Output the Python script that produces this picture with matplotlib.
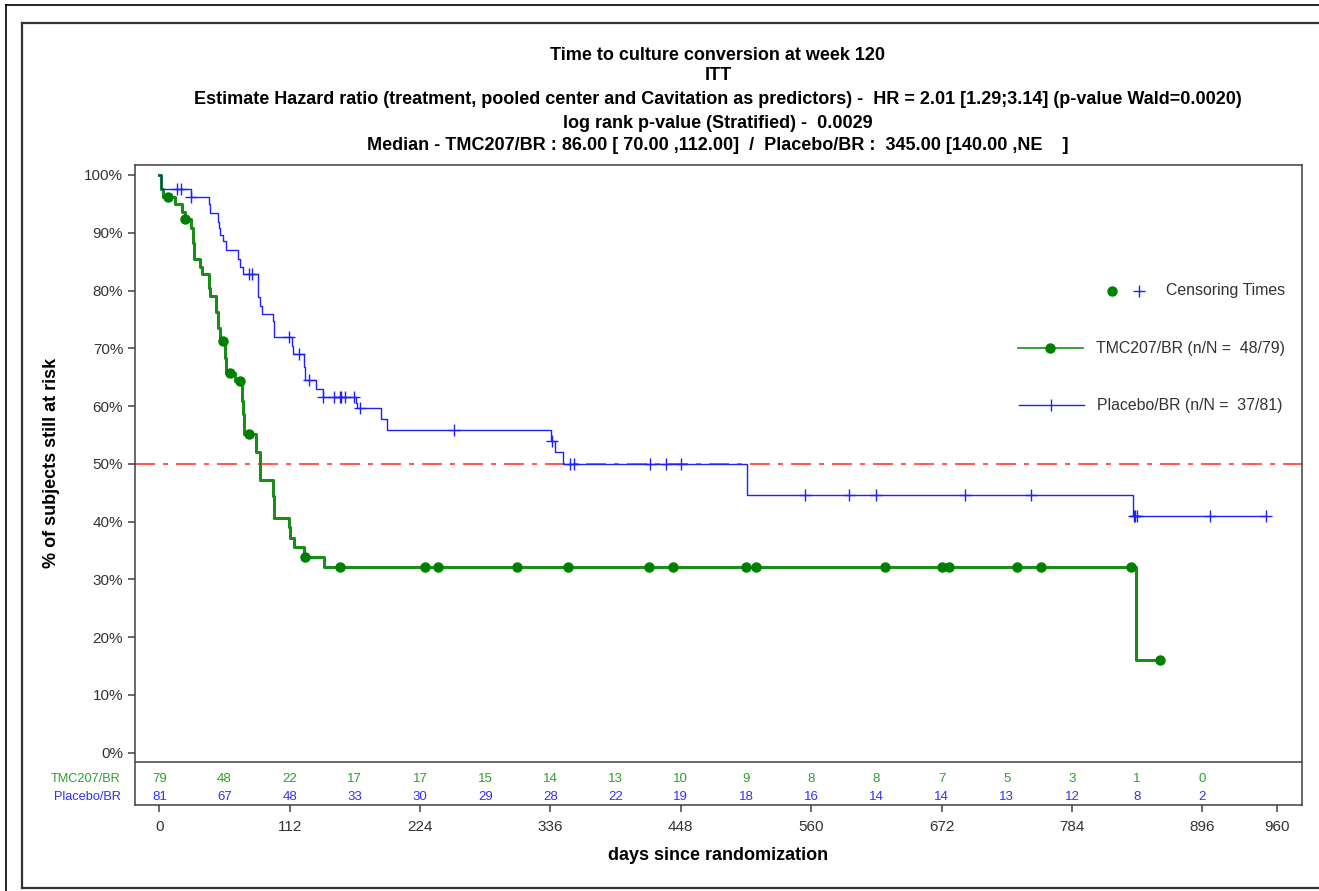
import numpy as np
import matplotlib
matplotlib.use('Agg')
import matplotlib.pyplot as plt
from matplotlib.lines import Line2D
from matplotlib.transforms import blended_transform_factory

plt.rcParams['font.family'] = ['Liberation Sans', 'DejaVu Sans']

W, H = 1319, 891

# Kaplan-Meier step data (days, % after the drop)
tmc_times = [1.7, 3.4, 13.7, 19.5, 22.0, 27.5, 28.9, 29.5, 35.2, 36.7, 42.3, 43.8,
             48.9, 50.1, 51.8, 56.7, 57.5, 65.3, 71.0, 72.1, 72.4, 83.3, 86.1,
             97.6, 98.7, 111.0, 111.9, 116.0, 123.9, 141.1, 838.9]
tmc_surv = [97.5, 96.2, 94.9, 93.6, 92.3, 90.9, 88.3, 85.4, 84.0, 82.8, 80.5, 79.1,
            76.2, 73.6, 71.3, 68.4, 65.8, 64.4, 60.9, 58.6, 55.1, 52.0, 47.2,
            44.5, 40.7, 39.0, 37.2, 35.6, 33.8, 32.2, 16.1]
tmc_censor = [7.1, 22.3, 54.6, 61.0, 69.0, 76.7, 124.8, 155.4, 228.4, 239.6, 307.5,
              351.2, 420.8, 441.4, 504.0, 512.6, 623.4, 672.3, 678.3, 736.7, 757.3,
              834.6, 859.5]

pbo_times = [1.7, 27.2, 42.7, 43.8, 50.1, 51.0, 51.8, 54.7, 57.5, 67.2, 69.0, 71.9,
             84.7, 86.1, 88.2, 97.6, 98.7, 113.9, 114.8, 124.5, 125.5, 134.8, 140.6,
             169.2, 169.8, 190.6, 196.0, 336.3, 339.7, 346.6, 504.6, 836.6]
pbo_surv = [97.5, 96.2, 94.9, 93.4, 91.9, 90.9, 89.6, 88.6, 87.0, 85.4, 84.1, 82.9,
            78.8, 77.3, 76.0, 74.7, 72.0, 70.4, 69.1, 66.7, 64.6, 63.0, 61.5,
            60.6, 59.7, 57.7, 55.8, 54.0, 52.1, 50.0, 44.6, 41.0]
pbo_censor = [15.2, 18.6, 27.5, 76.7, 79.6, 111.0, 119.6, 128.2, 140.6, 149.7, 155.4,
              156.3, 159.1, 166.9, 172.6, 252.9, 337.2, 352.6, 356.4, 421.6, 435.1,
              448.2, 554.7, 592.5, 615.7, 692.1, 748.8, 837.5, 838.5, 839.5, 902.5, 950.5]

risk_days = [0, 56, 112, 168, 224, 280, 336, 392, 448, 504, 560, 616, 672, 728, 784, 840, 896]
tmc_risk = [79, 48, 22, 17, 17, 15, 14, 13, 10, 9, 8, 8, 7, 5, 3, 1, 0]
pbo_risk = [81, 67, 48, 33, 30, 29, 28, 22, 19, 18, 16, 14, 14, 13, 12, 8, 2]

x_ticks = [0, 112, 224, 336, 448, 560, 672, 784, 896, 960]
y_ticks = [0, 10, 20, 30, 40, 50, 60, 70, 80, 90, 100]

title_lines = [
    'Time to culture conversion at week 120',
    'ITT',
    'Estimate Hazard ratio (treatment, pooled center and Cavitation as predictors) -  HR = 2.01 [1.29;3.14] (p-value Wald=0.0020)',
    'log rank p-value (Stratified) -  0.0029',
    'Median - TMC207/BR : 86.00 [ 70.00 ,112.00]  /  Placebo/BR :  345.00 [140.00 ,NE    ]',
]

GREEN = '#1a8c1a'
GREEN_DOT = '#008000'
BLUE = '#2020ff'
RED = '#ff3b3b'
DARK = '#333333'


def fx(x):
    return x / W


def fy(y):
    return 1 - y / H


def km_path(times, surv, end):
    xs = [0.0]
    ys = [100.0]
    for t, s in zip(times, surv):
        xs.append(t)
        ys.append(s)
    xs.append(end)
    ys.append(ys[-1])
    return np.array(xs), np.array(ys)


def km_at(times, surv, t):
    idx = np.searchsorted(times, t, side='right')
    vals = np.concatenate([[100.0], surv])
    return vals[idx]


fig = plt.figure(figsize=(W / 100, H / 100), dpi=100)

# outer frames
for (x0, y0, x1, y1, c, lw) in [(6, 5, W, 5, 'black', 1.2), (6, 5, 6, H, 'black', 1.2),
                               (22, 23, W, 23, '#333333', 1.6), (22, 23, 22, 888, '#333333', 1.6),
                               (22, 888, W, 888, '#333333', 1.6)]:
    fig.add_artist(Line2D([fx(x0), fx(x1)], [fy(y0), fy(y1)], color=c, lw=lw))

ax = fig.add_axes([fx(135), fy(805), fx(1301.7) - fx(135), fy(165) - fy(805)])
ax.set_xlim(-20.9, 981.4)
ax.set_ylim(-9.05, 101.73)

tx, ty = km_path(tmc_times, tmc_surv, max(tmc_censor))
px_, py_ = km_path(pbo_times, pbo_surv, max(pbo_censor))

ax.axhline(50, color=RED, lw=1.2, dashes=(12, 4.8, 3, 4.8), zorder=1)
ax.step(px_, py_, where='post', color=BLUE, lw=1.0, zorder=3)
ax.step(tx, ty, where='post', color=GREEN, lw=2.2, zorder=2)

tc = np.array(tmc_censor)
pc = np.array(pbo_censor)
ax.plot(tc, km_at(np.array(tmc_times), np.array(tmc_surv), tc), 'o', color=GREEN_DOT,
        ms=6.5, zorder=4)
ax.plot(pc, km_at(np.array(pbo_times), np.array(pbo_surv), pc), '+', color=BLUE,
        ms=8, mew=1.0, zorder=5)

# at-risk table
ax.axhline(-1.66, color='#404040', lw=1.1)
for d, a, b in zip(risk_days, tmc_risk, pbo_risk):
    ax.text(d, -4.6, str(a), color='#2e9e2e', fontsize=9.5, ha='center', va='center')
    ax.text(d, -7.6, str(b), color='#3030ff', fontsize=9.5, ha='center', va='center')
bt = blended_transform_factory(ax.transAxes, ax.transData)
ax.text(-0.0123, -4.6, 'TMC207/BR', color='#2e9e2e', fontsize=9.2, ha='right', va='center', transform=bt)
ax.text(-0.0123, -7.6, 'Placebo/BR', color='#3030ff', fontsize=9.2, ha='right', va='center', transform=bt)

ax.set_xticks(x_ticks)
ax.set_xticklabels([str(v) for v in x_ticks])
ax.set_yticks(y_ticks)
ax.set_yticklabels([f'{v}%' for v in y_ticks])
ax.tick_params(direction='out', length=5, width=1.1, color='#404040', labelcolor=DARK,
               labelsize=11)
ax.tick_params(axis='x', pad=6)
for s in ax.spines.values():
    s.set_color('#404040')
    s.set_linewidth(1.1)

fig.text(fx(718), fy(856), 'days since randomization', ha='center', va='center',
         fontsize=13, fontweight='bold')
fig.text(fx(52), fy(463), '% of subjects still at risk', ha='center', va='center',
         rotation=90, fontsize=13, fontweight='bold')

for yy, line in zip([55, 76, 100, 123, 146], title_lines):
    fig.text(fx(718), fy(yy), line, ha='center', va='center', fontsize=13, fontweight='bold')

# legend drawn by hand
fig.add_artist(Line2D([fx(1112)], [fy(291)], marker='o', color=GREEN_DOT, ms=6.5, ls='none'))
fig.add_artist(Line2D([fx(1139)], [fy(291)], marker='+', color=BLUE, ms=8, mew=1.0, ls='none'))
fig.text(fx(1166), fy(291), 'Censoring Times', fontsize=11.4, color=DARK, va='center')
fig.add_artist(Line2D([fx(1018), fx(1083)], [fy(348), fy(348)], color=GREEN, lw=1.2))
fig.add_artist(Line2D([fx(1050)], [fy(348)], marker='o', color=GREEN_DOT, ms=6.5, ls='none'))
fig.text(fx(1096), fy(348), 'TMC207/BR (n/N =  48/79)', fontsize=11.4, color=DARK, va='center')
fig.add_artist(Line2D([fx(1019), fx(1084)], [fy(405), fy(405)], color=BLUE, lw=1.0))
fig.add_artist(Line2D([fx(1051)], [fy(405)], marker='|', color=BLUE, ms=8, mew=1.0, ls='none'))
fig.text(fx(1097), fy(405), 'Placebo/BR (n/N =  37/81)', fontsize=11.4, color=DARK, va='center')

fig.savefig('out.png', dpi=100)
